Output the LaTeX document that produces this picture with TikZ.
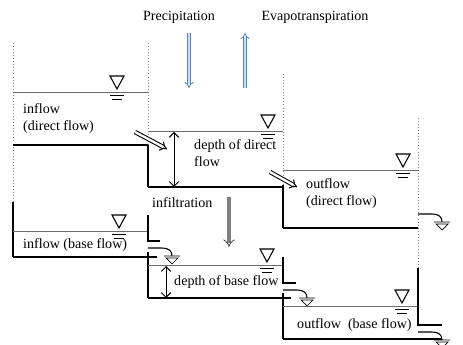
\documentclass[tikz,border=0pt]{standalone}
\usepackage{fontspec}
\setmainfont{Liberation Serif}
\usetikzlibrary{arrows.meta}

\definecolor{rainedge}{RGB}{84,130,186}
\definecolor{rainfill}{RGB}{205,222,242}

\tikzset{
  wall/.style={gray, dotted, line width=0.6pt},
  side/.style={black, line width=0.9pt},
  floor/.style={black, line width=1.1pt},
  water/.style={gray!85!black, line width=0.6pt},
  flowarrow/.style={double, double distance=2pt, line width=0.9pt, -{Implies}},
  rainarrow/.style={draw=rainedge, double=rainfill, double distance=2pt, line width=0.7pt, -{Implies}},
  seeparrow/.style={draw=black!80, double=gray, double distance=2.8pt, line width=0.6pt, -{Implies}},
  depth/.style={line width=0.8pt, {Straight Barb[length=4pt,width=8pt]}-{Straight Barb[length=4pt,width=8pt]}},
  wl/.pic={
    \draw[line width=0.9pt] (-7,-16) -- (7,-16) -- (0,-3) -- cycle;
    \draw[line width=0.6pt] (-7,3) -- (7,3) (-5,7) -- (5,7);
  },
  outlet/.pic={
    \draw[line width=0.9pt] (0,0) -- (14,0) .. controls (21,0) and (24,3) .. (24,8);
    \draw[line width=0.6pt] (16,8) -- (32,8) (18,10) -- (30,10) -- (24,16) -- cycle;
  }
}

\begin{document}
\begin{tikzpicture}[x=0.3mm, y=-0.3mm]
  \useasboundingbox (0,0) rectangle (463,345);

  \begin{scope}[every node/.style={inner sep=0pt, align=left,
      font=\fontsize{12pt}{14.5pt}\selectfont}]
    \node (prec) at (179,17) {Precipitation};
    \node (evap) at (315,17) {Evapotranspiration};
    \node[anchor=west] (inD)  at (23,119)  {inflow\\(direct flow)};
    \node[anchor=west] (depD) at (194,153) {depth of direct\\flow};
    \node[anchor=west] (outD) at (306,194) {outflow\\(direct flow)};
    \node[anchor=west] (infl) at (152,203) {infiltration};
    \node[anchor=west] (inB)  at (23,245)  {inflow (base flow)};
    \node[anchor=west] (depB) at (174,282) {depth of base flow};
    \node[anchor=west] (outB) at (297,325) {outflow\ \ (base flow)};
  \end{scope}

  % upper tanks (direct flow)
  \draw[wall] (13,43) -- (13,202);
  \draw[wall] (148,43) -- (148,145);
  \draw[wall] (283,74) -- (283,185);
  \draw[wall] (418,118) -- (418,268);
  \draw[water] (13,92) -- (148,92);
  \draw[water] (148,131) -- (283,131);
  \draw[water] (283,170) -- (418,170);
  \draw[floor] (13,145) -- (148,145);
  \draw[side] (148,145) -- (148,187);
  \draw[floor] (148,187) -- (283,187);
  \draw[side] (283,185) -- (283,228);
  \draw[floor] (283,228) -- (418,228);
  \pic at (117,92) {wl};
  \pic at (268,131) {wl};
  \pic at (403,170) {wl};
  \pic at (418,214) {outlet};

  % lower tanks (base flow)
  \draw[side] (13,202) -- (13,257);
  \draw[water] (13,231) -- (148,231);
  \draw[side] (148,215) -- (148,241) -- (160,241);
  \draw[floor] (13,257) -- (157,257);
  \draw[side] (148,252) -- (148,298);
  \draw[water] (148,265) -- (283,265);
  \draw[side] (283,257) -- (283,283) -- (296,283);
  \draw[floor] (148,298) -- (291,298);
  \draw[side] (283,293) -- (283,339);
  \draw[water] (283,306) -- (418,306);
  \draw[side] (418,268) -- (418,325) -- (442,325);
  \draw[floor] (283,339) -- (442,339);
  \pic at (119,231) {wl};
  \pic at (267,265) {wl};
  \pic at (402,306) {wl};
  \pic at (148,248) {outlet};
  \pic at (283,290) {outlet};
  \pic at (418,332) {outlet};

  % arrows
  \coordinate (pTop) at (189,33);  \coordinate (pBot) at (189,88);
  \coordinate (eBot) at (245,88);  \coordinate (eTop) at (245,33);
  \coordinate (iTop) at (229,197); \coordinate (iBot) at (229,247);
  \coordinate (dA) at (135,132);   \coordinate (dB) at (167,149);
  \coordinate (dC) at (270,172);   \coordinate (dD) at (297,187);
  \coordinate (hA) at (174,132);   \coordinate (hB) at (174,187);
  \coordinate (bA) at (166,266);   \coordinate (bB) at (166,298);
  \draw[rainarrow] (pTop) -- (pBot);
  \draw[rainarrow] (eBot) -- (eTop);
  \draw[seeparrow] (iTop) -- (iBot);
  \draw[flowarrow] (dA) -- (dB);
  \draw[flowarrow] (dC) -- (dD);
  \draw[depth] (hA) -- (hB);
  \draw[depth] (bA) -- (bB);

\end{tikzpicture}
\end{document}
